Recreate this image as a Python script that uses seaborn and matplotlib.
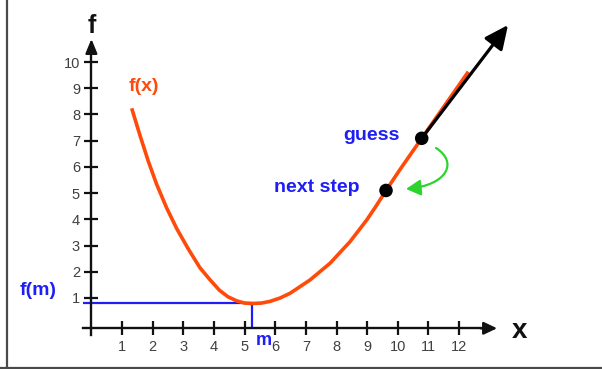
import numpy as np
import pandas as pd
import matplotlib
matplotlib.use("Agg")
import matplotlib.pyplot as plt
from matplotlib.lines import Line2D
from matplotlib.patches import FancyArrowPatch
from matplotlib.path import Path
import seaborn as sns

# ---- data -------------------------------------------------------------
curve_x = [1.315, 1.586, 1.857, 2.131, 2.458, 2.784, 3.162, 3.544, 3.871,
           4.174, 4.45, 4.742, 5.0, 5.25, 5.55, 5.829, 6.15, 6.482, 7.134,
           7.787, 8.440, 8.985, 9.311, 9.615, 10.072, 10.780, 12.301]
curve_y = [8.234, 7.200, 6.215, 5.330, 4.428, 3.647, 2.870, 2.150, 1.694,
           1.300, 1.050, 0.890, 0.805, 0.790, 0.805, 0.870, 0.995, 1.178,
           1.686, 2.323, 3.146, 3.974, 4.540, 5.100, 5.900, 7.090, 9.630]

m_value = 5.25          # location of the minimum
fm_value = 0.79         # f(m)

guess_pt = (10.78, 7.09)
next_pt = (9.615, 5.10)
tangent_end = (13.597, 11.411)

x_ticks = list(range(1, 13))
y_ticks = list(range(1, 11))
x_tick_labels = [str(v) for v in x_ticks]
y_tick_labels = [str(v) for v in y_ticks]

# ---- style ------------------------------------------------------------
sns.set_theme(style="white")
plt.rcParams["font.family"] = ["Liberation Sans", "DejaVu Sans"]

RED = "#FF4A0A"
BLUE = "#1E1EF5"
GREEN = "#2CD42C"
INK = "#111111"

fig = plt.figure(figsize=(6.02, 3.69), dpi=100)
ax = fig.add_axes([0, 0, 1, 1])
ax.set_xlim(-2.983, 16.664)
ax.set_ylim(-1.709, 12.365)
ax.set_facecolor("white")

# ---- axes through the origin -----------------------------------------
x_axis_y = -0.156
for side in ("top", "right"):
    ax.spines[side].set_visible(False)
ax.spines["left"].set_position(("data", 0))
ax.spines["bottom"].set_position(("data", x_axis_y))
ax.spines["left"].set_bounds(-0.41, 10.5)
ax.spines["bottom"].set_bounds(-0.27, 12.95)
for side in ("left", "bottom"):
    ax.spines[side].set_color(INK)
    ax.spines[side].set_linewidth(1.7)

ax.set_xticks(x_ticks)
ax.set_xticklabels(x_tick_labels)
ax.set_yticks(y_ticks)
ax.set_yticklabels(y_tick_labels)
ax.tick_params(axis="both", direction="inout", length=10, width=1.6,
               color=INK, labelsize=10.5, labelcolor="#404040", pad=3.2)
ax.tick_params(axis="x", bottom=True)
ax.tick_params(axis="y", left=True)
ax.grid(False)

ax.annotate("", xy=(0, 10.88), xytext=(0, 10.3),
            arrowprops=dict(arrowstyle="-|>,head_length=0.85,head_width=0.35",
                            mutation_scale=10, color=INK, lw=1.7,
                            shrinkA=0, shrinkB=0))
ax.annotate("", xy=(13.24, x_axis_y), xytext=(12.7, x_axis_y),
            arrowprops=dict(arrowstyle="-|>,head_length=0.8,head_width=0.38",
                            mutation_scale=10, color=INK, lw=1.7,
                            shrinkA=0, shrinkB=0))

ax.text(0.02, 11.094, "f", ha="center", va="baseline", fontsize=18,
        fontweight="bold", color=INK)
ax.text(13.717, -0.538, "x", ha="left", va="baseline", fontsize=20,
        fontweight="bold", color=INK)

# ---- f(m) guide lines -------------------------------------------------
ax.plot([-0.27, m_value], [fm_value, fm_value], color=BLUE, lw=1.6,
        solid_capstyle="butt", zorder=2)
ax.plot([m_value, m_value], [fm_value, x_axis_y], color=BLUE, lw=1.6,
        solid_capstyle="butt", zorder=2)

# ---- the function -----------------------------------------------------
df = pd.DataFrame({"x": curve_x, "f": curve_y})
sns.lineplot(data=df, x="x", y="f", color=RED, linewidth=2.6, ax=ax,
             zorder=3, solid_joinstyle="round", solid_capstyle="butt")
ax.set_xlabel("")
ax.set_ylabel("")

# tangent at the current guess
ax.annotate("", xy=tangent_end, xytext=guess_pt,
            arrowprops=dict(arrowstyle="-|>,head_length=0.9,head_width=0.42",
                            mutation_scale=16, color="black", lw=2.3,
                            shrinkA=0, shrinkB=0), zorder=4)

pts = pd.DataFrame({"x": [guess_pt[0], next_pt[0]],
                    "f": [guess_pt[1], next_pt[1]]})
sns.scatterplot(data=pts, x="x", y="f", color="black", s=95,
                edgecolor="none", ax=ax, zorder=5)
ax.set_xlabel("")
ax.set_ylabel("")

# curved step arrow from the guess towards the next step
step_path = Path([(11.247, 6.720), (11.965, 6.186), (11.638, 5.309),
                  (10.268, 5.157)],
                 [Path.MOVETO, Path.CURVE4, Path.CURVE4, Path.CURVE4])
ax.add_patch(FancyArrowPatch(path=step_path,
                             arrowstyle="-|>,head_length=1.1,head_width=0.6",
                             mutation_scale=8, color=GREEN, lw=1.6,
                             shrinkA=0, shrinkB=0, zorder=4))

# ---- labels -----------------------------------------------------------
ax.text(1.204, 8.894, "f(x)", ha="left", va="baseline", fontsize=14,
        fontweight="bold", color=RED)
ax.text(8.223, 7.025, "guess", ha="left", va="baseline", fontsize=14,
        fontweight="bold", color=BLUE)
ax.text(5.969, 5.053, "next step", ha="left", va="baseline", fontsize=14,
        fontweight="bold", color=BLUE)
ax.text(-2.330, 1.114, "f(m)", ha="left", va="baseline", fontsize=14,
        fontweight="bold", color=BLUE)
ax.text(5.372, -0.793, "m", ha="left", va="baseline", fontsize=13,
        fontweight="bold", color=BLUE)

# ---- frame ------------------------------------------------------------
W, H = 602.0, 369.0
fig.add_artist(Line2D([7 / W, 7 / W], [0, 1], transform=fig.transFigure,
                      color="#4a4a4a", lw=1.6))
fig.add_artist(Line2D([0, 1], [1 - 367.5 / H, 1 - 367.5 / H],
                      transform=fig.transFigure, color="#4a4a4a", lw=1.6))

fig.savefig("out.png", dpi=100, facecolor="white")
